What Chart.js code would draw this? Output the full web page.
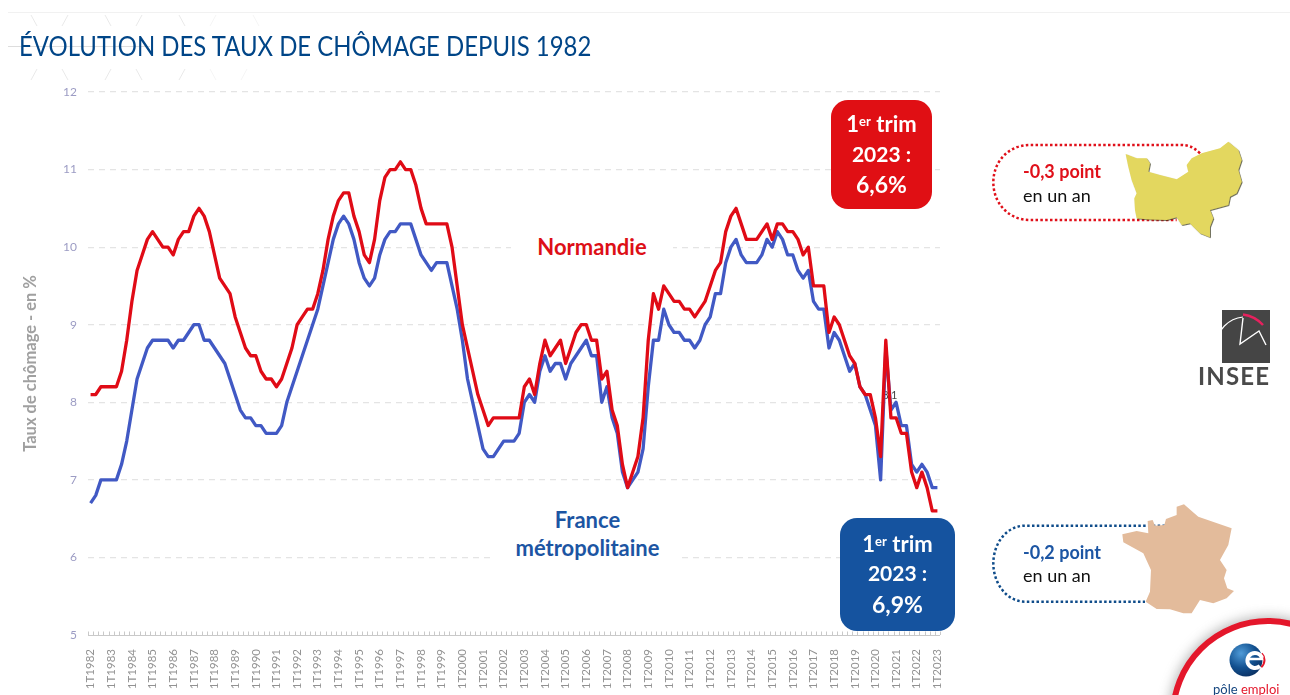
<!DOCTYPE html>
<html lang="fr"><head><meta charset="utf-8">
<title>Évolution des taux de chômage depuis 1982</title>
<script src="https://cdn.jsdelivr.net/npm/chart.js@4"></script>
<style>
html,body{margin:0;padding:0;background:#fff;width:1290px;height:695px;overflow:hidden;font-family:Lato,sans-serif}
#wrap{position:relative;width:1290px;height:695px;overflow:hidden}
#c{position:absolute;left:0;top:0}
#deco{position:absolute;left:0;top:0;pointer-events:none}
.t{position:absolute;white-space:nowrap}
.box{position:absolute;color:#fff;font-weight:700;font-size:21px;text-align:center;border-radius:17px}
.box div{position:absolute;left:0;right:0;transform:translateY(-50%);line-height:1}
sup{font-size:13px;vertical-align:6px;line-height:0}
</style></head><body><div id="wrap">
<canvas id="c" width="1290" height="695"></canvas>
<svg id="deco" width="1290" height="695" viewBox="0 0 1290 695">
<defs>
<filter id="sh" x="-10%" y="-10%" width="130%" height="130%"><feDropShadow dx="2.5" dy="2.5" stdDeviation="1" flood-color="#3a3a20" flood-opacity=".85"/></filter>
<filter id="sh2" x="-20%" y="-20%" width="140%" height="140%"><feGaussianBlur stdDeviation="6"/></filter>
<radialGradient id="gl" cx=".35" cy=".3" r=".8"><stop offset="0" stop-color="#4f9bd8"/><stop offset=".55" stop-color="#12508f"/><stop offset="1" stop-color="#0a2c5c"/></radialGradient>
</defs>
<g stroke="#e9e9e9" fill="none" stroke-width="1">
<path d="M8 12.5H1290" stroke="#f1f1f1"/>
<path d="M8 46.5H150" stroke="#dddddd"/>
<path d="M31 15l6 11M68 15l-6 11M105 15l6 11M142 15l-6 11M179 15l6 11" />
<path d="M216 15l-6 11M253 15l6 11" stroke="#f5f5f5"/>
<path d="M37 69l-6 11M62 69l6 11M111 69l-6 11M136 69l6 11M185 69l-6 11" />
<path d="M210 69l6 11M247 69l-6 11" stroke="#f5f5f5"/>
</g>
<g transform="translate(980 130) scale(.3333)">
<path d="M660 70C640 50 625 45 600 45H150C85 45 40 95 40 157S85 270 150 270H590" fill="none" stroke="#E0101A" stroke-width="7.5" stroke-dasharray="7.5 7"/>
<path filter="url(#sh)" fill="#E3D75E" d="M437 72L470 85 500 85 510 100 505 125 540 135 590 148 625 125 620 105 635 85 665 70 720 55 745 35 775 60 785 90 775 120 785 155 770 190 750 200 745 225 690 240 700 265 690 290 690 322 660 310 640 290 630 280 605 285 590 262 560 270 500 268 470 265 465 240 463 205 470 190 455 150 445 110Z"/>
</g>
<g transform="translate(980 495) scale(.3333)">
<path d="M555 92H135C80 92 40 145 40 205S80 320 135 320H495" fill="none" stroke="#0F4C8A" stroke-width="7.5" stroke-dasharray="7.5 7"/>
<path fill="#E3BB9B" d="M427 118L470 108 505 115 503 78 518 75 525 92 553 90 558 72 590 60 590 35 612 28 655 65 755 100 745 150 720 195 740 225 732 250 742 280 762 288 740 310 700 325 660 315 635 355 610 355 570 343 530 342 497 320 510 290 513 225 490 175 430 142Z"/>
</g>
<g>
<rect x="1222" y="310" width="48" height="53" fill="#454545"/>
<path d="M1216 345A30 30 0 0 1 1243 317" fill="none" stroke="#fff" stroke-width="1.2"/>
<path d="M1243 314.500A33 33 0 0 1 1263 325" fill="none" stroke="#E6215E" stroke-width="2.500"/>
<path d="M1243 318L1240 344 1259 331 1266 345" fill="none" stroke="#fff" stroke-width="1.4"/>
</g>
<g>
<circle cx="1268" cy="716" r="100" fill="#777" opacity=".5" filter="url(#sh2)"/>
<circle cx="1268" cy="716" r="95" fill="#fff" stroke="#E4172B" stroke-width="6"/>
<circle cx="1246" cy="660" r="16.500" fill="url(#gl)"/>
<circle cx="1255" cy="660" r="9.500" fill="none" stroke="#E4172B" stroke-width="2" stroke-dasharray="16 44" stroke-dashoffset="8"/>
<path d="M1262 658A7.500 7.500 0 1 0 1260 666" fill="none" stroke="#fff" stroke-width="4"/>
<path d="M1249 659H1263" stroke="#fff" stroke-width="2.500"/>
</g>
</svg>
<div class="t" style="left:19px;top:29px;font-size:26px;line-height:34px;color:#004587;transform:scaleX(.92);transform-origin:left center">ÉVOLUTION DES TAUX DE CHÔMAGE DEPUIS 1982</div>
<div class="t" style="left:511px;top:233px;width:162px;height:28px;background:#fff;text-align:center;font-weight:700;font-size:22px;line-height:28px;color:#DD0F17">Normandie</div>
<div class="t" style="left:495px;top:506px;width:185px;text-align:center;font-weight:700;font-size:22px;line-height:28px;color:#1C55A3;background:#fff">France<br>métropolitaine</div>
<div class="box" style="left:831px;top:100px;width:101px;height:109px;background:#E00F14">
<div style="top:24px;font-size:22px">1<sup>er</sup> trim</div><div style="top:53px">2023 :</div><div style="top:84px;font-size:23px">6,6%</div></div>
<div class="box" style="left:840px;top:518px;width:115px;height:113px;background:#15539F">
<div style="top:26px;font-size:22px">1<sup>er</sup> trim</div><div style="top:54px">2023 :</div><div style="top:86px;font-size:23px">6,9%</div></div>
<div class="t" style="left:1023px;top:161px;font-size:18px;line-height:20px;font-weight:700;color:#E0101A">-0,3 point</div>
<div class="t" style="left:1023px;top:185px;font-size:18px;line-height:20px;color:#111">en un an</div>
<div class="t" style="left:1023px;top:542px;font-size:18px;line-height:20px;font-weight:700;color:#1C55A3">-0,2 point</div>
<div class="t" style="left:1023px;top:565px;font-size:18px;line-height:20px;color:#111">en un an</div>
<div class="t" style="left:1198px;top:362px;font-size:24px;line-height:28px;color:#4a4a4a;letter-spacing:1.2px;font-weight:700">INSEE</div>
<div class="t" style="left:1213px;top:680px;font-size:14px;line-height:18px;color:#15467f;transform:scaleX(.93);transform-origin:left center">pôle <span style="color:#E4172B">emploi</span></div>
</div>
<script>
const years = [1982,1983,1984,1985,1986,1987,1988,1989,1990,1991,1992,1993,1994,1995,1996,1997,1998,1999,2000,2001,2002,2003,2004,2005,2006,2007,2008,2009,2010,2011,2012,2013,2014,2015,2016,2017,2018,2019,2020,2021,2022,2023];
const categories = [];
years.forEach(y => { [1,2,3,4].forEach(q => { if (y < 2023 || q === 1) categories.push(q + 'T' + y); }); });

const normandie = [
8.1,8.1,8.2,8.2,8.2,8.2,8.4,8.8,9.3,9.7,9.9,10.1,10.2,10.1,10.0,10.0,9.9,10.1,10.2,10.2,
10.4,10.5,10.4,10.2,9.9,9.6,9.5,9.4,9.1,8.9,8.7,8.6,8.6,8.4,8.3,8.3,8.2,8.3,8.5,8.7,
9.0,9.1,9.2,9.2,9.4,9.7,10.1,10.4,10.6,10.7,10.7,10.4,10.2,9.9,9.8,10.1,10.6,10.9,11.0,11.0,
11.1,11.0,11.0,10.8,10.5,10.3,10.3,10.3,10.3,10.3,10.0,9.5,9.0,8.7,8.4,8.1,7.9,7.7,7.8,7.8,
7.8,7.8,7.8,7.8,8.2,8.3,8.1,8.5,8.8,8.6,8.7,8.8,8.5,8.7,8.9,9.0,9.0,8.8,8.8,8.3,
8.4,7.9,7.7,7.2,6.9,7.1,7.3,7.8,8.8,9.4,9.2,9.5,9.4,9.3,9.3,9.2,9.2,9.1,9.2,9.3,
9.5,9.7,9.8,10.2,10.4,10.5,10.3,10.1,10.1,10.1,10.2,10.3,10.1,10.3,10.3,10.2,10.2,10.1,9.9,10.0,
9.5,9.5,9.5,8.9,9.1,9.0,8.8,8.6,8.5,8.2,8.1,8.1,7.8,7.3,8.8,7.8,7.8,7.6,7.6,7.1,
6.9,7.1,6.9,6.6,6.6];

const france = [
6.7,6.8,7.0,7.0,7.0,7.0,7.2,7.5,7.9,8.3,8.5,8.7,8.8,8.8,8.8,8.8,8.7,8.8,8.8,8.9,
9.0,9.0,8.8,8.8,8.7,8.6,8.5,8.3,8.1,7.9,7.8,7.8,7.7,7.7,7.6,7.6,7.6,7.7,8.0,8.2,
8.4,8.6,8.8,9.0,9.2,9.5,9.8,10.1,10.3,10.4,10.3,10.1,9.8,9.6,9.5,9.6,9.9,10.1,10.2,10.2,
10.3,10.3,10.3,10.1,9.9,9.8,9.7,9.8,9.8,9.8,9.5,9.2,8.8,8.3,8.0,7.7,7.4,7.3,7.3,7.4,
7.5,7.5,7.5,7.6,8.0,8.1,8.0,8.4,8.6,8.4,8.5,8.5,8.3,8.5,8.6,8.7,8.8,8.6,8.6,8.0,
8.2,7.8,7.6,7.1,6.9,7.0,7.1,7.4,8.2,8.8,8.8,9.2,9.0,8.9,8.9,8.8,8.8,8.7,8.8,9.0,
9.1,9.4,9.4,9.8,10.0,10.1,9.9,9.8,9.8,9.8,9.9,10.1,10.0,10.2,10.1,9.9,9.9,9.7,9.6,9.7,
9.3,9.2,9.2,8.7,8.9,8.8,8.6,8.4,8.5,8.2,8.1,7.9,7.7,7.0,8.7,7.9,8.0,7.7,7.7,7.2,
7.1,7.2,7.1,6.9,6.9];

const yTicks = [5,6,7,8,9,10,11,12];

const minorTicks = {
  id:'minorTicks',
  afterDraw(chart){
    const s = chart.scales.x, ctx = chart.ctx, b = s.top;
    const step = s.getPixelForValue(1) - s.getPixelForValue(0);
    ctx.save(); ctx.strokeStyle = '#c9c9c9'; ctx.lineWidth = 1; ctx.beginPath();
    for (let i = 0; i <= categories.length; i++) {
      const x = Math.round(s.getPixelForValue(i) - step/2) + .5;
      ctx.moveTo(x, b); ctx.lineTo(x, b - 3.5);
    }
    ctx.moveTo(s.left, b + .5); ctx.lineTo(s.right, b + .5);
    ctx.stroke(); ctx.restore();
  },
  beforeDatasetsDraw(chart){
    const ctx = chart.ctx, x = chart.scales.x.getPixelForValue(154), y = chart.scales.y.getPixelForValue(8.1);
    ctx.save(); ctx.fillStyle = '#444'; ctx.font = '11px Lato'; ctx.textAlign = 'center'; ctx.textBaseline = 'middle';
    ctx.fillText('8,1', x + 4, y + 1); ctx.restore();
  }
};

new Chart(document.getElementById('c'), {
  type:'line',
  plugins:[minorTicks],
  data:{ labels:categories, datasets:[
    {label:'Normandie', data:normandie, borderColor:'#E00B16', borderWidth:3.3, pointRadius:0, tension:0, borderJoinStyle:'round'},
    {label:'France métropolitaine', data:france, borderColor:'#4159C4', borderWidth:3.3, pointRadius:0, tension:0, borderJoinStyle:'round'}
  ]},
  options:{
    responsive:false, animation:false,
    layout:{padding:{left:21,right:350,top:92,bottom:0}},
    plugins:{legend:{display:false},tooltip:{enabled:false}},
    scales:{
      x:{
        offset:true,
        afterFit(s){ s.height = 60; },
        border:{display:false},
        grid:{display:false},
        ticks:{autoSkip:false,minRotation:90,maxRotation:90,padding:6,color:'#929292',font:{family:'Lato',size:11.5},
          callback(v,i){ return i%4===0 ? categories[i] : ''; }}
      },
      y:{
        min:5,max:12,
        afterFit(s){ s.width = 67; },
        border:{display:false,dash:[6,5]},
        afterBuildTicks(s){ s.ticks = yTicks.map(v=>({value:v})); },
        grid:{color(c){ return c.tick.value===5 ? 'rgba(0,0,0,0)' : '#e4e4e4'; },lineWidth:1.2,drawTicks:false},
        ticks:{padding:11,color:'#9c9cc4',font:{family:'Lato',size:12}},
        title:{display:true,text:'Taux de chômage - en %',color:'#a0a0a0',font:{family:'Lato',size:16.5,weight:'700'},padding:{top:0,bottom:0}}
      }
    }
  }
});
</script></body></html>
